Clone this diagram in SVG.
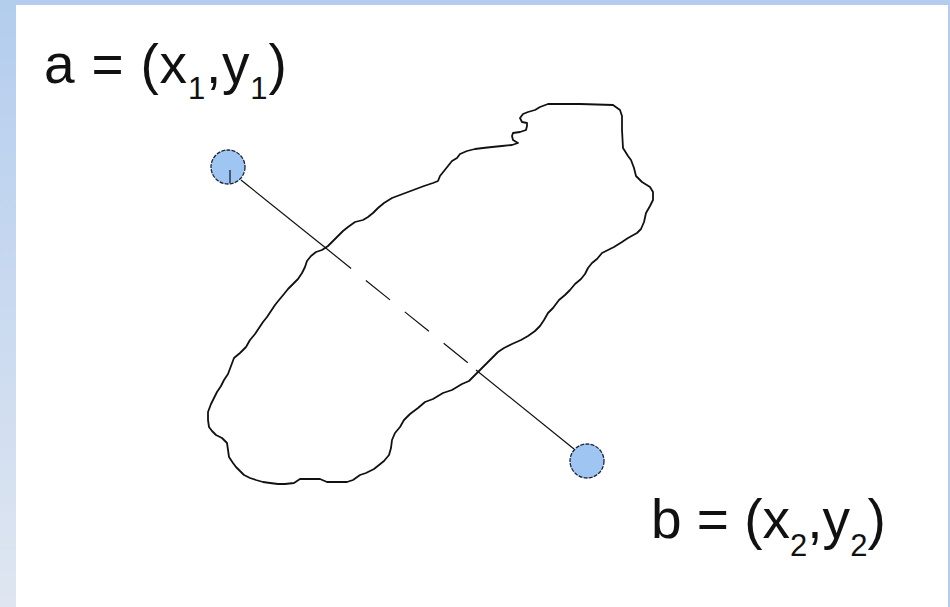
<svg xmlns="http://www.w3.org/2000/svg" width="950" height="607" viewBox="0 0 950 607">
  <defs>
    <linearGradient id="side" x1="0" y1="0" x2="0" y2="1">
      <stop offset="0" stop-color="#b3cdee"/>
      <stop offset="1" stop-color="#dfe6f1"/>
    </linearGradient>
    <style>
      .lbl { font-family: "Liberation Sans", Arial, sans-serif; font-size: 55px; fill: #111; }
      .sub { font-size: 31px; fill: #111; }
      .pt { fill: #9fc5f3; stroke: #1b2638; stroke-width: 1.3; stroke-dasharray: 4 1.2; }
      .ln { stroke: #111; stroke-width: 1.2; fill: none; }
      .blob { stroke: #111; stroke-width: 1.8; fill: none; stroke-linejoin: round; }
    </style>
  </defs>
  <rect x="0" y="0" width="950" height="607" fill="#ffffff"/>
  <rect x="0" y="0" width="16" height="607" fill="url(#side)"/>
  <rect x="0" y="0" width="950" height="5" fill="#b4cdee"/>
  <rect x="948" y="0" width="2" height="607" fill="#b4cdee"/>

  <g id="region">
    <path class="blob" d="M540,107 L548,104 L580,104 L613,105 L620,110 L622,116 L622,130 L623,148 L628,156 L631,160 L634,168 L636,176 L642,182 L650,187 L653,192 L653,200 L650,206 L646,213 L644,222 L641,229 L637,233 L628,238 L622,242 L614,247 L608,250 L602,253 L597,259 L592,263 L588,268 L585,274 L581,279 L575,284 L570,290 L565,295 L559,300 L553,308 L548,313 L544,320 L540,326 L535,331 L528,336 L521,340 L512,344 L504,348 L498,352 L492,358 L486,364 L480,370 L475,375 L469,381 L462,384 L452,390 L443,393 L433,399 L425,402 L418,408 L410,414 L404,420 L400,427 L395,433 L392,440 L391,448 L389,455 L384,461 L379,465 L374,469 L366,473 L360,475 L353,480 L347,482 L338,482 L327,482 L320,479 L310,479 L300,479 L294,483 L285,484 L278,484 L270,483 L263,482 L256,480 L250,478 L244,475 L240,471 L236,467 L233,463 L229,457 L228,450 L227,443 L222,438 L216,435 L212,431 L209,427 L208,420 L208,412 L211,404 L214,398 L217,392 L221,386 L224,380 L228,374 L231,366 L234,358 L240,353 L246,347 L250,340 L255,334 L259,328 L263,322 L267,317 L271,311 L275,305 L279,300 L284,294 L288,289 L293,284 L298,279 L302,273 L305,267 L307,261 L311,256 L316,252 L322,250 L328,246 L333,241 L338,236 L343,231 L348,227 L355,222 L363,220 L368,217 L373,213 L378,208 L384,203 L392,198 L400,195 L408,192 L416,189 L424,186 L433,183 L438,181 L440,176 L444,171 L448,166 L452,161 L457,158 L460,154 L467,151 L475,149 L483,148 L492,147 L502,146 L512,145 L518,143 L513,140 L512,136 L513,133 L520,132 L526,130 L527,126 L527,123 L522,122 L520,118 L523,114 L528,112 L535,110 Z"/>
  </g>

  <g id="connectors">
    <line class="ln" x1="241" y1="180" x2="327" y2="249"/>
    <line class="ln" x1="327" y1="249" x2="478" y2="371" stroke-dasharray="31 19"/>
    <line class="ln" x1="476" y1="370" x2="574" y2="449"/>
  </g>

  <g id="point-a">
    <circle class="pt" cx="228" cy="167" r="17"/>
    <line class="ln" x1="230" y1="170" x2="230" y2="183" stroke-width="1.5"/>
  </g>
  <g id="point-b">
    <circle class="pt" cx="587" cy="461" r="17"/>
  </g>

  <g id="label-a">
    <text class="lbl" x="44" y="83" letter-spacing="0.8">a = (x<tspan class="sub" dy="16">1</tspan><tspan dy="-16">,y</tspan><tspan class="sub" dy="16">1</tspan><tspan dy="-16">)</tspan></text>
  </g>
  <g id="label-b">
    <text class="lbl" x="651" y="538">b = (x<tspan class="sub" dy="18">2</tspan><tspan dy="-18">,y</tspan><tspan class="sub" dy="18">2</tspan><tspan dy="-18">)</tspan></text>
  </g>
</svg>
